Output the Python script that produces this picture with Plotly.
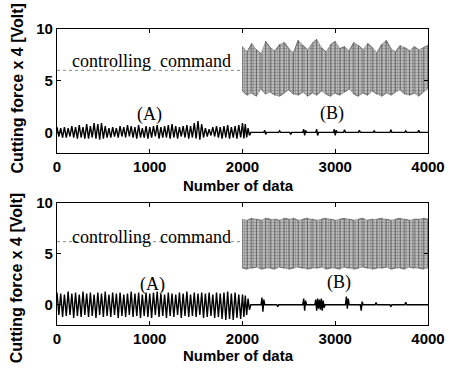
import plotly.graph_objects as go

# ---------------- data ----------------
osc_step = 20  # sample spacing of the read-off oscillation values (data index)
top_osc = [0.5,-0.4,0.4,-0.5,0.5,-0.5,0.4,-0.4,0.6,-0.5,
           0.5,-0.6,0.7,-0.5,0.5,-0.6,0.8,-0.6,0.6,-0.5,
           0.9,-0.6,0.8,-0.7,0.9,-0.6,0.6,-0.5,0.4,-0.5,
           0.5,-0.4,0.4,-0.5,0.6,-0.4,0.5,-0.5,0.7,-0.4,
           0.6,-0.5,0.5,-0.6,0.7,-0.5,0.4,-0.5,0.6,-0.6,
           0.5,-0.5,0.6,-0.4,0.7,-0.6,0.5,-0.5,0.6,-0.5,
           0.7,-0.6,0.8,-0.5,0.6,-0.6,0.5,-0.4,0.6,-0.5,
           0.7,-0.6,0.6,-0.5,0.9,-0.6,1.1,-0.7,0.8,-0.5,
           0.4,-0.4,0.3,-0.3,0.5,-0.4,0.6,-0.5,0.5,-0.6,
           0.6,-0.5,0.7,-0.6,0.5,-0.5,0.6,-0.6,0.7,-0.5]
top_tail_x = [2000,2015,2030,2045,2060,2075,2090, 2230,2240,2250,2260, 2390,2400,2410,
              2510,2520,2530, 2650,2660,2670,2680,2690, 2790,2800,2810,2820,
              2980,2990,3000,3010,3020, 3090,3100,3110, 3250,3260,3270, 3410,3420,3430,
              3590,3600,3610, 3750,3760,3770, 3890,3900,3910, 4000]
top_tail_y = [0.9,-0.6,0.8,-0.5,0.4,-0.3,0, 0,0.2,-0.2,0, 0,0.15,0,
              0,-0.2,0, 0,0.3,-0.3,0.2,0, 0,0.3,-0.3,0,
              0,0.3,-0.3,0.2,0, 0,0.25,0, 0,0.2,0, 0,0.15,0,
              0,0.25,0, 0,0.15,0, 0,0.2,0, 0]

bot_osc = [1.2,-1.0,1.1,-1.2,1.0,-1.1,1.3,-1.0,1.1,-1.3,
           1.2,-1.1,1.0,-1.2,1.3,-1.0,1.1,-1.2,1.2,-1.1,
           1.0,-1.3,1.2,-1.0,1.1,-1.2,1.3,-1.1,1.0,-1.2,
           1.2,-1.0,1.1,-1.3,1.2,-1.1,1.0,-1.2,1.1,-1.0,
           1.3,-1.2,1.1,-1.1,1.2,-1.3,1.0,-1.1,1.2,-1.2,
           1.1,-1.3,1.2,-1.0,1.3,-1.2,1.1,-1.1,1.0,-1.3,
           1.2,-1.1,1.1,-1.2,1.0,-1.0,1.2,-1.3,1.1,-1.1,
           1.3,-1.2,1.0,-1.1,1.2,-1.2,1.1,-1.0,1.2,-1.3,
           1.1,-1.2,1.2,-1.1,1.0,-1.3,1.2,-1.2,1.1,-1.4,
           1.2,-1.5,1.3,-1.4,1.1,-1.5,1.2,-1.3,1.0,-1.4]
bot_tail_x = [2000,2015,2030,2045,2060,2075,2090, 2200,2210,2220,2230,2240, 2370,2380,2390,
              2650,2660,2670,2680,2690,
              2780,2790,2800,2810,2820,2830,2840,2850,2860,2870,2880,2890,
              3110,3120,3130,3140,3150, 3270,3280,3290,3300, 3430,3440,3450,
              3590,3600,3610, 3750,3760,3770, 4000]
bot_tail_y = [1.0,-1.2,0.9,-1.0,0.6,-0.5,0, 0,0.7,-0.7,0.5,0, 0,-0.2,0,
              0,0.6,-0.6,0.4,0,
              0,0.5,-0.6,0.6,-0.4,0.5,-0.5,0.6,-0.6,0.4,-0.3,0,
              0,0.8,-0.4,0.6,0, 0,-0.6,0.3,0, 0,0.2,0,
              0,-0.2,0, 0,0.25,0, 0]

# controlling command: constant level before 2000, switching band after
cmd_level = [6.0, 6.2]
band_x = [2000 + 50 * i for i in range(41)]
top_band_hi = [8.3,7.8,8.6,8.0,7.6,8.8,8.2,7.9,8.5,8.7,
               8.1,7.7,8.9,8.4,8.0,8.6,9.0,8.2,7.8,8.5,
               8.8,8.1,8.3,7.9,8.7,8.4,8.0,8.6,8.2,7.7,
               8.5,8.9,8.1,7.8,8.4,8.2,7.9,8.3,8.0,8.2,8.4]
top_band_lo = [4.0,3.6,3.8,3.5,4.2,3.7,3.9,3.6,3.5,3.8,
               4.1,3.7,3.6,3.9,3.5,3.8,3.6,4.0,3.7,3.5,
               3.8,3.6,3.9,4.2,3.7,3.5,3.8,3.6,4.0,3.7,
               3.5,3.8,3.6,3.9,4.1,3.7,3.6,3.8,3.5,3.9,4.2]
bot_band_hi = [8.4,8.3,8.5,8.4,8.3,8.5,8.4,8.4,8.3,8.5,
               8.4,8.5,8.3,8.4,8.5,8.4,8.3,8.4,8.5,8.4,
               8.3,8.4,8.5,8.4,8.3,8.4,8.5,8.3,8.4,8.4,
               8.5,8.4,8.3,8.4,8.5,8.4,8.3,8.4,8.4,8.5,8.4]
bot_band_lo = [3.6,3.5,3.6,3.7,3.5,3.6,3.6,3.5,3.7,3.6,
               3.5,3.6,3.7,3.6,3.5,3.6,3.6,3.7,3.5,3.6,
               3.6,3.5,3.7,3.6,3.5,3.6,3.7,3.6,3.5,3.6,
               3.6,3.7,3.5,3.6,3.6,3.5,3.7,3.6,3.6,3.5,3.6]

x_ticks = [0, 1000, 2000, 3000, 4000]
y_ticks = [0, 5, 10]
y_range = [-2, 10]
x_range = [0, 4000]

# ---------------- figure ----------------
fig = go.Figure()

panels = [
    ("x", "y", top_osc, top_tail_x, top_tail_y, cmd_level[0], top_band_hi, top_band_lo),
    ("x2", "y2", bot_osc, bot_tail_x, bot_tail_y, cmd_level[1], bot_band_hi, bot_band_lo),
]
for xa, ya, osc, tx, ty, lvl, hi, lo in panels:
    # command band (dotted grey texture)
    fig.add_trace(go.Scatter(x=band_x, y=hi, xaxis=xa, yaxis=ya, mode="lines",
                             line=dict(width=0.6, color="#888"), hoverinfo="skip"))
    fig.add_trace(go.Scatter(x=band_x, y=lo, xaxis=xa, yaxis=ya, mode="lines",
                             line=dict(width=0.6, color="#888"), fill="tonexty",
                             fillcolor="#c4c4c4",
                             fillpattern=dict(shape=".", fgcolor="#4a4a4a", bgcolor="#cacaca",
                                              size=3, solidity=0.5),
                             hoverinfo="skip"))
    # vertical streaks of the switching command
    zx, zy = [], []
    for i in range(len(band_x)):
        zx += [band_x[i], band_x[i]]
        zy += [hi[i], lo[i]] if i % 2 == 0 else [lo[i], hi[i]]
    fig.add_trace(go.Scatter(x=zx, y=zy, xaxis=xa, yaxis=ya, mode="lines",
                             line=dict(width=1, color="rgba(70,70,70,0.6)"),
                             hoverinfo="skip"))
    # constant command level before switching
    fig.add_trace(go.Scatter(x=[0, 2000], y=[lvl, lvl], xaxis=xa, yaxis=ya, mode="lines",
                             line=dict(width=1, color="#888", dash="dot"), hoverinfo="skip"))
    # cutting force signal
    sx = [osc_step * i for i in range(len(osc))] + tx
    sy = osc + ty
    fig.add_trace(go.Scatter(x=sx, y=sy, xaxis=xa, yaxis=ya, mode="lines",
                             line=dict(width=1.4, color="black"), hoverinfo="skip"))

tickfont = dict(family="Liberation Sans", size=15, color="black", weight="bold")
axis_common = dict(range=x_range, tickvals=x_ticks, ticks="inside", ticklen=4,
                   showline=True, linecolor="black", linewidth=1.2, mirror="all",
                   showgrid=False, zeroline=False, tickfont=tickfont, tickcolor="black")
yaxis_common = dict(range=y_range, tickvals=y_ticks, ticks="inside", ticklen=4,
                    showline=True, linecolor="black", linewidth=1.2, mirror="all",
                    showgrid=False, zeroline=False, tickfont=tickfont, tickcolor="black")

fig.update_layout(
    width=457, height=373,
    margin=dict(l=57, r=25, t=29, b=48),
    paper_bgcolor="white", plot_bgcolor="white",
    showlegend=False,
    xaxis=dict(domain=[0, 1], anchor="y", **axis_common),
    yaxis=dict(domain=[0.581, 1], anchor="x", **yaxis_common),
    xaxis2=dict(domain=[0, 1], anchor="y2", **axis_common),
    yaxis2=dict(domain=[0, 0.412], anchor="x2", **yaxis_common),
)

serif = dict(family="Liberation Serif", size=18, color="black")
titlefont = dict(family="Liberation Sans", size=15, color="black", weight="bold")
ytitlefont = dict(family="Liberation Sans", size=16, color="black", weight="bold")
ann = [
    dict(x=140, y=6.9, xref="x", yref="y", text="controlling  command", xanchor="left", font=serif),
    dict(x=1000, y=1.75, xref="x", yref="y", text="(A)", font=serif),
    dict(x=2965, y=1.85, xref="x", yref="y", text="(B)", font=serif),
    dict(x=140, y=6.7, xref="x2", yref="y2", text="controlling  command", xanchor="left", font=serif),
    dict(x=1025, y=2.0, xref="x2", yref="y2", text="(A)", font=serif),
    dict(x=3040, y=2.2, xref="x2", yref="y2", text="(B)", font=serif),
    dict(x=0.488, y=0.472, xref="paper", yref="paper", text="Number of data", font=titlefont),
    dict(x=0.488, y=-0.102, xref="paper", yref="paper", text="Number of data", font=titlefont),
    dict(x=-0.107, y=0.80, xref="paper", yref="paper", text="Cutting force x 4 [Volt]",
         textangle=-90, font=ytitlefont),
    dict(x=-0.107, y=0.159, xref="paper", yref="paper", text="Cutting force x 4 [Volt]",
         textangle=-90, font=ytitlefont),
]
for a in ann:
    a.setdefault("showarrow", False)
    a.setdefault("xanchor", "center")
    a.setdefault("yanchor", "middle")
fig.update_layout(annotations=ann)

fig.write_html("out.html")
